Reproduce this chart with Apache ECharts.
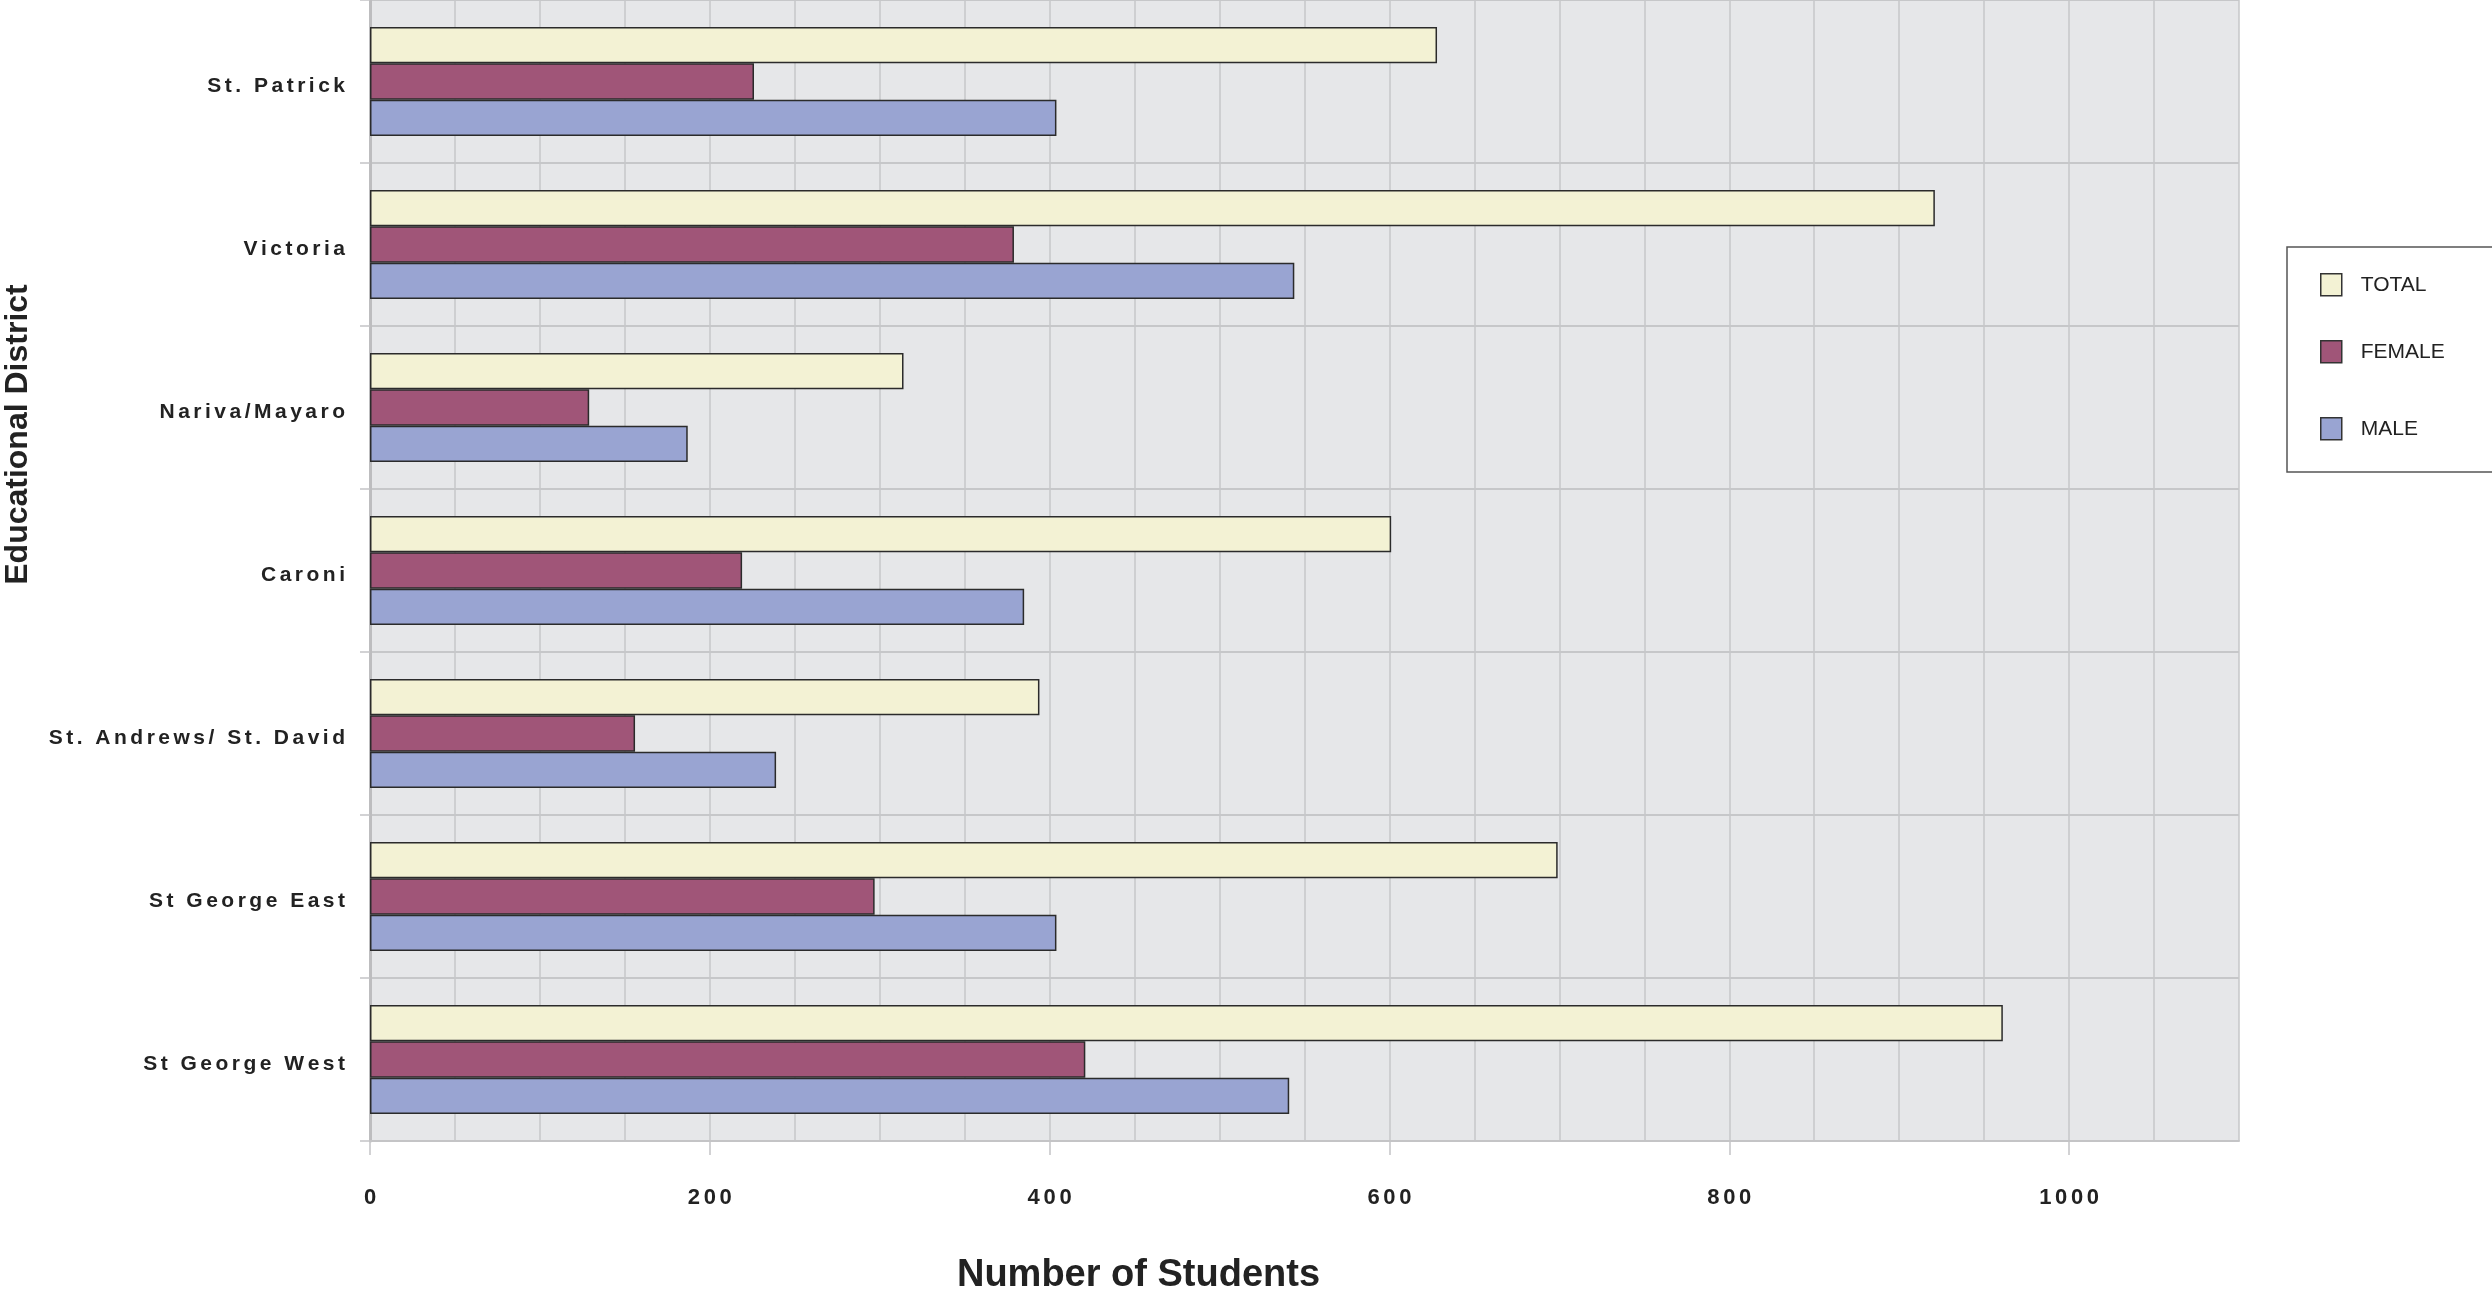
<!DOCTYPE html>
<html>
<head>
<meta charset="utf-8">
<script src="https://cdn.jsdelivr.net/npm/echarts@6/dist/echarts.min.js"></script>
<style>
html,body{margin:0;padding:0;background:#fff;}
#chart{width:2492px;height:1293px;}
</style>
</head>
<body>
<div id="chart"></div>
<script>
const categories = ['St. Patrick', 'Victoria', 'Nariva/Mayaro', 'Caroni', 'St. Andrews/ St. David', 'St George East', 'St George West'];
const totalValues = [628, 921, 314, 601, 394, 699, 961];
const femaleValues = [226, 379, 129, 219, 156, 297, 421];
const maleValues = [404, 544, 187, 385, 239, 404, 541];
const xTickLabels = [0, 200, 400, 600, 800, 1000];
const seriesNames = ['TOTAL', 'FEMALE', 'MALE'];
const seriesColors = ['#f3f2d4', '#a05578', '#99a4d2'];

const FONT = "'Liberation Sans', Arial, sans-serif";
const spaced = s => String(s).split('').join('\u2006');

const chart = echarts.init(document.getElementById('chart'));

const barStyle = (i) => ({
  color: seriesColors[i],
  borderColor: '#2b2b2b',
  borderWidth: 1.5
});

const legendTops = [273, 340, 417];
const legends = seriesNames.map((n, i) => ({
  data: [n],
  left: 2320,
  top: legendTops[i],
  padding: 0,
  orient: 'vertical',
  icon: 'rect',
  itemWidth: 21,
  itemHeight: 22,
  selectedMode: false,
  itemStyle: { borderColor: '#333', borderWidth: 1.5 },
  textStyle: { fontFamily: FONT, fontSize: 21, color: '#222', padding: [0, 0, 0, 14] }
}));

chart.setOption({
  animation: false,
  backgroundColor: '#ffffff',
  grid: {
    left: 370, right: 253, top: 0, bottom: 152,
    containLabel: false,
    outerBoundsMode: 'none',
    show: true,
    backgroundColor: '#e6e7e9',
    borderWidth: 0
  },
  legend: legends,
  graphic: [{
    type: 'rect',
    z: -1,
    shape: { x: 2287, y: 247, width: 260, height: 225 },
    style: { fill: '#ffffff', stroke: '#555555', lineWidth: 1.5 }
  }],
  xAxis: [{
    type: 'value',
    min: 0,
    max: 1100,
    interval: 50,
    name: 'Number of Students',
    nameLocation: 'middle',
    nameGap: 116,
    nameTextStyle: { fontFamily: FONT, fontSize: 38, fontWeight: 'bold', color: '#222', padding: [0, 332, 0, 0] },
    axisLine: { show: true, lineStyle: { color: '#c4c4c6', width: 2 } },
    axisTick: { show: false },
    axisLabel: { show: false },
    splitLine: { show: true, lineStyle: { color: '#c6c7c9', width: 1.5 } }
  }, {
    type: 'value',
    position: 'bottom',
    min: 0,
    max: 1100,
    interval: 200,
    axisLine: { show: false },
    axisTick: { show: true, length: 14, customValues: xTickLabels, lineStyle: { color: '#c4c4c6', width: 1.5 } },
    axisLabel: {
      customValues: xTickLabels,
      margin: 46,
      fontFamily: FONT, fontSize: 22, fontWeight: 'bold', color: '#222',
      formatter: v => spaced(v)
    },
    splitLine: { show: false }
  }],
  yAxis: {
    type: 'category',
    inverse: true,
    data: categories,
    name: 'Educational District',
    nameLocation: 'middle',
    nameGap: 336,
    nameTextStyle: { fontFamily: FONT, fontSize: 32, fontWeight: 'bold', color: '#222', padding: [0, 0, 0, 272] },
    axisLine: { show: true, lineStyle: { color: '#bdbdbf', width: 3 } },
    axisTick: { show: true, length: 10, lineStyle: { color: '#c4c4c6', width: 1.5 } },
    axisLabel: {
      margin: 25,
      verticalAlign: 'top',
      lineHeight: 10,
      fontFamily: FONT, fontSize: 21, fontWeight: 'bold', color: '#222',
      formatter: v => spaced(v)
    },
    splitLine: { show: true, lineStyle: { color: '#c6c7c9', width: 2 } }
  },
  series: [
    { name: seriesNames[0], type: 'bar', data: totalValues, itemStyle: barStyle(0), barGap: '0%', barCategoryGap: '33%' },
    { name: seriesNames[1], type: 'bar', data: femaleValues, itemStyle: barStyle(1), barGap: '0%', barCategoryGap: '33%' },
    { name: seriesNames[2], type: 'bar', data: maleValues, itemStyle: barStyle(2), barGap: '0%', barCategoryGap: '33%' }
  ]
});
</script>
</body>
</html>
